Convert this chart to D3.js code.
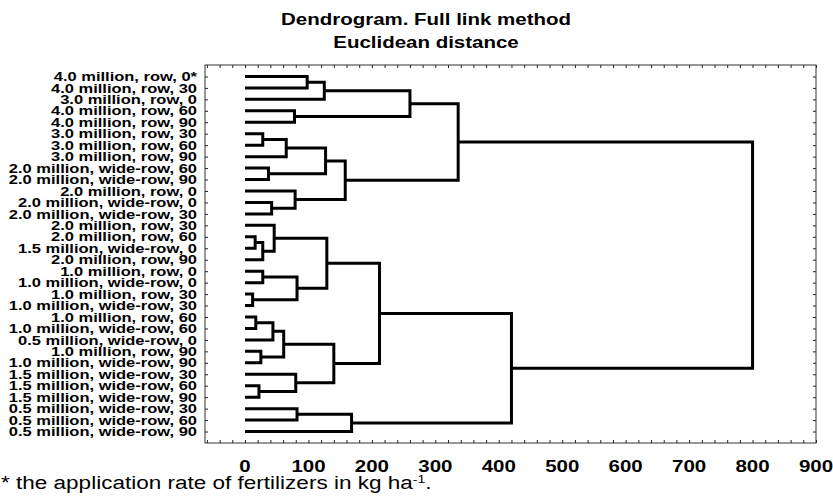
<!DOCTYPE html>
<html>
<head>
<meta charset="utf-8">
<script src="https://cdn.jsdelivr.net/npm/d3@7"></script>
<style>
  body { margin: 0; background: #fff; }
  text { font-family: "Liberation Sans", Arial, sans-serif; fill: #000; }
</style>
</head>
<body>
<svg id="chart" width="833" height="500"></svg>
<script>
// Leaves, top to bottom
const leafLabels = [
  "4.0 million, row, 0*",
  "4.0 million, row, 30",
  "3.0 million, row, 0",
  "4.0 million, row, 60",
  "4.0 million, row, 90",
  "3.0 million, row, 30",
  "3.0 million, row, 60",
  "3.0 million, row, 90",
  "2.0 million, wide-row, 60",
  "2.0 million, wide-row, 90",
  "2.0 million, row, 0",
  "2.0 million, wide-row, 0",
  "2.0 million, wide-row, 30",
  "2.0 million, row, 30",
  "2.0 million, row, 60",
  "1.5 million, wide-row, 0",
  "2.0 million, row, 90",
  "1.0 million, row, 0",
  "1.0 million, wide-row, 0",
  "1.0 million, row, 30",
  "1.0 million, wide-row, 30",
  "1.0 million, row, 60",
  "1.0 million, wide-row, 60",
  "0.5 million, wide-row, 0",
  "1.0 million, row, 90",
  "1.0 million, wide-row, 90",
  "1.5 million, wide-row, 30",
  "1.5 million, wide-row, 60",
  "1.5 million, wide-row, 90",
  "0.5 million, wide-row, 30",
  "0.5 million, wide-row, 60",
  "0.5 million, wide-row, 90"
];

// Linkage: merge k joins clusters linkLeft[k] and linkRight[k] at linkHeight[k].
// Ids 0..31 are leaves, id 32 + k is the cluster formed by merge k.
const linkLeft  = [0, 32, 3, 33, 5, 36, 8, 37, 11, 10, 39, 35, 14, 44, 13, 17, 19, 47, 46, 21, 51, 24, 52, 27, 26, 54, 50, 29, 59, 58, 43];
const linkRight = [1, 2, 4, 34, 6, 7, 9, 38, 12, 40, 41, 42, 15, 16, 45, 18, 20, 48, 49, 22, 23, 25, 53, 28, 55, 56, 57, 30, 31, 60, 61];
const linkHeight = [98, 125, 78, 260, 28, 65, 37, 127, 42, 79, 158, 336, 16, 28, 46, 28, 12, 82, 129, 17, 44, 25, 61, 22, 80, 140, 212, 82, 168, 420, 800];

// Distance axis
const xTickLabels = [0, 100, 200, 300, 400, 500, 600, 700, 800, 900];
const xMinorTicks = [-60, -40, -20, 0, 20, 40, 60, 80, 100, 120, 140, 160, 180, 200, 220, 240, 260, 280, 300,
  320, 340, 360, 380, 400, 420, 440, 460, 480, 500, 520, 540, 560, 580, 600, 620, 640, 660, 680, 700,
  720, 740, 760, 780, 800, 820, 840, 860, 880, 900];

const svg = d3.select("#chart");
const frame = { left: 205, right: 816, top: 65, bottom: 443 };
const SX = 1.28; // horizontal widening of the lettering

const x = d3.scaleLinear().domain([0, 900]).range([245, frame.right]);
const y = d3.scalePoint()
  .domain(d3.range(leafLabels.length))
  .range([frame.top, frame.bottom])
  .padding(1);

function label(g, px, py, str, size, weight, anchor) {
  return g.append("text")
    .attr("transform", `translate(${px},${py}) scale(${SX},1)`)
    .attr("text-anchor", anchor)
    .attr("font-size", size)
    .attr("font-weight", weight)
    .text(str);
}

// Title
label(svg, 426, 25, "Dendrogram. Full link method", 16, "bold", "middle");
label(svg, 426, 48, "Euclidean distance", 16, "bold", "middle");

// Axes (ticks point into the plot)
const tickStyle = g => {
  g.select(".domain").remove();
  g.selectAll(".tick line").attr("stroke", "#222");
};
svg.append("g").attr("transform", `translate(0,${frame.bottom})`)
  .call(d3.axisBottom(x).tickValues(xMinorTicks).tickSize(-3).tickFormat(""))
  .call(tickStyle);
svg.append("g").attr("transform", `translate(0,${frame.top})`)
  .call(d3.axisTop(x).tickValues(xMinorTicks).tickSize(-3).tickFormat(""))
  .call(tickStyle);
svg.append("g").attr("transform", `translate(${frame.left},0)`)
  .call(d3.axisLeft(y).tickSize(-3).tickFormat(""))
  .call(tickStyle);
svg.append("g").attr("transform", `translate(${frame.right},0)`)
  .call(d3.axisRight(y).tickSize(-3).tickFormat(""))
  .call(tickStyle);

svg.append("rect")
  .attr("x", frame.left).attr("y", frame.top)
  .attr("width", frame.right - frame.left).attr("height", frame.bottom - frame.top)
  .attr("fill", "none").attr("stroke", "#333").attr("stroke-width", 1);

// Tick labels
const tl = svg.append("g");
xTickLabels.forEach(v => label(tl, x(v), 472, String(v), 16, "bold", "middle"));

// Leaf labels
const ll = svg.append("g");
leafLabels.forEach((s, i) => label(ll, 197, y(i) + 4.6, s, 12.9, "bold", "end"));

// Node positions
const n = leafLabels.length;
const pos = leafLabels.map((_, i) => ({ x: x(0), y: y(i) }));
linkHeight.forEach((h, k) => {
  const a = pos[linkLeft[k]], b = pos[linkRight[k]];
  pos[n + k] = { x: x(h), y: (a.y + b.y) / 2 };
});

// Branches
svg.append("g")
  .attr("fill", "none").attr("stroke", "#000").attr("stroke-width", 3)
  .attr("stroke-linejoin", "miter").attr("stroke-linecap", "butt")
  .selectAll("path")
  .data(linkHeight.map((h, k) => k))
  .join("path")
  .attr("d", k => {
    const a = pos[linkLeft[k]], b = pos[linkRight[k]], xm = x(linkHeight[k]);
    return `M${a.x},${a.y}H${xm}V${b.y}H${b.x}`;
  });

// Footnote
const fn = svg.append("text")
  .attr("transform", `translate(1,489) scale(${SX},1)`)
  .attr("font-size", 17.6);
fn.append("tspan").text("* the application rate of fertilizers in kg ha");
fn.append("tspan").attr("font-size", 11).attr("dy", -6).text("-1");
fn.append("tspan").attr("dy", 6).text(".");
</script>
</body>
</html>
